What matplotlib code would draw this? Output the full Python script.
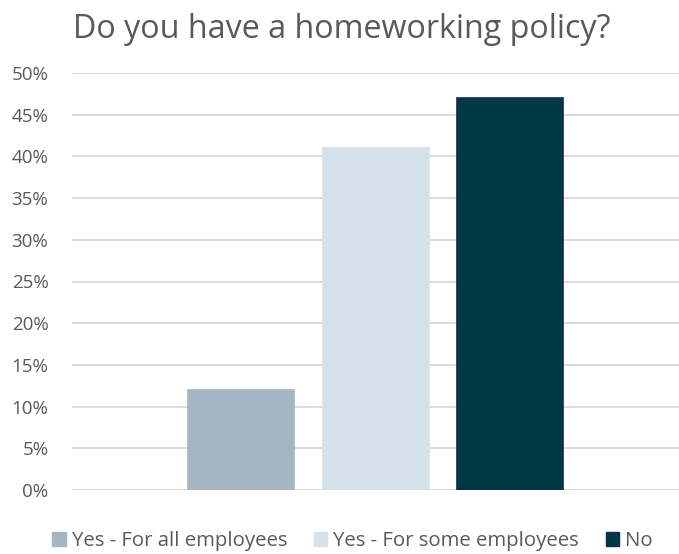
import numpy as np
import matplotlib.pyplot as plt
from matplotlib.patches import Patch
from matplotlib.ticker import PercentFormatter

labels = ["Yes - For all employees", "Yes - For some employees", "No"]
values = [12, 41, 47]
colors = ["#A5B5C2", "#D6E2EA", "#003843"]
edges = ["#A5B5C2", "#D6E2EA", "#0E2A5C"]
yticks = list(range(0, 51, 5))


def main():
    plt.rcParams['font.family'] = ['Open Sans', 'DejaVu Sans']
    text_color = "#595959"

    fig = plt.figure(figsize=(6.79, 5.54), dpi=100)
    ax = fig.add_axes([72/679, 1 - 490/554, 607/679, 417/554])

    x = np.array([-1, 0, 1]) * 134.5
    for xi, v, c, e in zip(x, values, colors, edges):
        ax.bar(xi, v, width=106, color=c, edgecolor=e, linewidth=1.2, zorder=3)

    ax.set_xlim(-303.5, 303.5)
    ax.set_ylim(0, 50)
    ax.set_yticks(yticks)
    ax.yaxis.set_major_formatter(PercentFormatter(decimals=0))
    ax.set_xticks([])
    ax.grid(axis='y', color="#D9D9D9", linewidth=1.3, zorder=0)
    for s in ax.spines.values():
        s.set_visible(False)
    ax.tick_params(axis='y', length=0, pad=17, labelsize=13.5, labelcolor=text_color)

    fig.text(341.5/679, 1 - 30/554, "Do you have a homeworking policy?",
             ha='center', va='center', fontsize=23.2, color=text_color)

    handles = [Patch(facecolor=c, edgecolor=e) for c, e in zip(colors, edges)]
    fig.legend(handles, labels, loc='center', bbox_to_anchor=(352.5/679, 1 - 541/554),
               ncol=3, frameon=False, fontsize=14.7, labelcolor=text_color,
               handlelength=0.65, handleheight=0.65, handletextpad=0.3, columnspacing=1.3)

    fig.savefig("out.png", dpi=100)


if __name__ == "__main__":
    main()
